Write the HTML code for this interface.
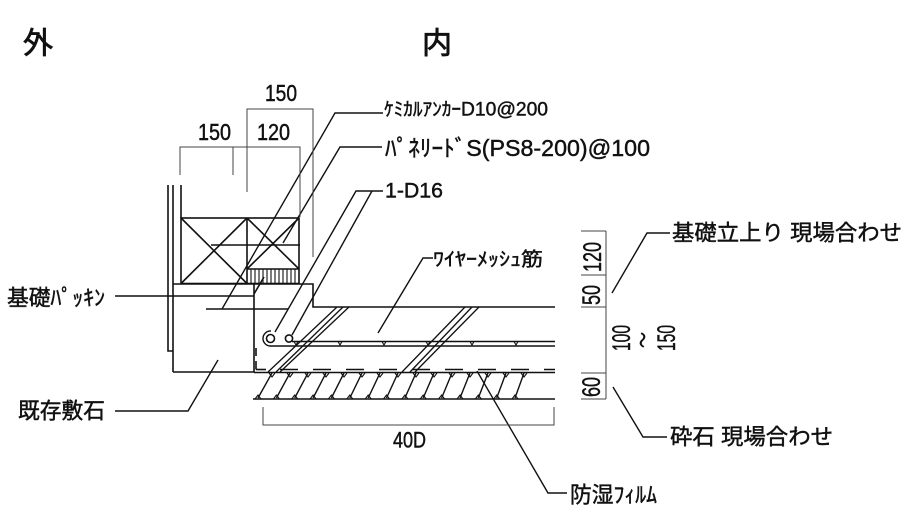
<!DOCTYPE html>
<html><head><meta charset="utf-8"><style>
html,body{margin:0;padding:0;background:#fff;}
svg{display:block;}
text{font-family:"Liberation Sans","Noto Sans CJK JP",sans-serif;fill:#111;stroke:#111;stroke-width:0.45;dominant-baseline:central;}
</style></head><body>
<svg width="917" height="518" viewBox="0 0 917 518" xmlns="http://www.w3.org/2000/svg">
<g fill="none" stroke="#111" stroke-width="1.6" stroke-linecap="butt">
<!-- wall lines -->
<polyline points="168,185 168,351 173,351"/>
<line x1="173" y1="185" x2="173" y2="372"/>
<line x1="181" y1="185" x2="181" y2="218"/>
<!-- foundation box -->
<rect x="181" y="218" width="118" height="65.5"/>
<line x1="247" y1="218" x2="247" y2="283.5"/>
<line x1="181" y1="218" x2="247" y2="283.5"/>
<line x1="247" y1="218" x2="181" y2="283.5"/>
<line x1="247" y1="218" x2="299" y2="269"/>
<line x1="299" y1="218" x2="247" y2="269"/>
<line x1="211" y1="245" x2="300" y2="245"/>
<line x1="247" y1="269" x2="299" y2="269"/>
<!-- packing hatch -->
<g stroke-width="1.1">
<line x1="251" y1="269" x2="251" y2="283"/><line x1="255" y1="269" x2="255" y2="283"/>
<line x1="259" y1="269" x2="259" y2="283"/><line x1="263" y1="269" x2="263" y2="283"/>
<line x1="267" y1="269" x2="267" y2="283"/><line x1="271" y1="269" x2="271" y2="283"/>
<line x1="275" y1="269" x2="275" y2="283"/><line x1="279" y1="269" x2="279" y2="283"/>
<line x1="283" y1="269" x2="283" y2="283"/><line x1="287" y1="269" x2="287" y2="283"/>
<line x1="291" y1="269" x2="291" y2="283"/><line x1="295" y1="269" x2="295" y2="283"/>
</g>
<!-- slab / stone outline -->
<polyline points="173,284 313,284 313,307 555,307"/>
<polyline points="173,372 254,372"/>
<line x1="254" y1="284" x2="254" y2="372"/>
<line x1="206" y1="309" x2="288" y2="309"/>
<line x1="264" y1="277" x2="254" y2="294"/>
<!-- gravel -->
<line x1="254" y1="372.5" x2="555" y2="372.5"/>
<line x1="253" y1="399" x2="555" y2="399"/>
<!-- moisture film dashed -->
<line x1="256" y1="348" x2="256" y2="356"/>
<line x1="256" y1="361" x2="256" y2="369.5"/>
<line x1="256" y1="369.5" x2="266" y2="369.5"/>
<line x1="280" y1="369.5" x2="555" y2="369.5" stroke-dasharray="18 15"/>
<!-- mesh -->
<line x1="292" y1="341.5" x2="555" y2="341.5" stroke-width="1.4"/>
<line x1="270" y1="346" x2="555" y2="346" stroke-width="1.4"/>
<path d="M270,346 A7.5,7.5 0 0 1 271,331" stroke-width="1.4"/>
<circle cx="270.5" cy="338.5" r="4"/>
<circle cx="289" cy="338.5" r="3.6"/>
<!-- bent bars -->
<g stroke-width="1.3">
<line x1="268" y1="372" x2="337" y2="307"/>
<line x1="276" y1="372" x2="343" y2="307"/>
<line x1="280" y1="372" x2="349" y2="307"/>
<line x1="402" y1="372" x2="465" y2="307"/>
<line x1="410" y1="372" x2="472" y2="307"/>
<line x1="415" y1="372" x2="479" y2="307"/>
</g>
<!-- gravel hatch -->
<g stroke-width="1.4">
<line x1="258" y1="398" x2="272" y2="373"/>
<line x1="276.4" y1="398" x2="290" y2="373"/>
<line x1="294.7" y1="398" x2="308" y2="373"/>
<line x1="313.1" y1="398" x2="326" y2="373"/>
<line x1="331.4" y1="398" x2="344" y2="373"/>
<line x1="349.8" y1="398" x2="362" y2="373"/>
<line x1="368.2" y1="398" x2="380" y2="373"/>
<line x1="386.5" y1="398" x2="398" y2="373"/>
<line x1="404.9" y1="398" x2="416" y2="373"/>
<line x1="423.2" y1="398" x2="434" y2="373"/>
<line x1="441.6" y1="398" x2="452" y2="373"/>
<line x1="460" y1="398" x2="470" y2="373"/>
<line x1="478.3" y1="398" x2="488" y2="373"/>
<line x1="496.7" y1="398" x2="506" y2="373"/>
<line x1="515" y1="398" x2="524" y2="373"/>
</g>
<g stroke-width="1.1">
<path d="M269,373 L272,377 L275,373 M287,373 L290,377 L293,373 M305,373 L308,377 L311,373 M323,373 L326,377 L329,373 M341,373 L344,377 L347,373 M359,373 L362,377 L365,373 M377,373 L380,377 L383,373 M395,373 L398,377 L401,373 M413,373 L416,377 L419,373 M431,373 L434,377 L437,373 M449,373 L452,377 L455,373 M467,373 L470,377 L473,373 M485,373 L488,377 L491,373 M503,373 L506,377 L509,373 M521,373 L524,377 L527,373"/>
<path d="M255,399 L258,395 L261,399 M273.4,399 L276.4,395 L279.4,399 M291.7,399 L294.7,395 L297.7,399 M310.1,399 L313.1,395 L316.1,399 M328.4,399 L331.4,395 L334.4,399 M346.8,399 L349.8,395 L352.8,399 M365.2,399 L368.2,395 L371.2,399 M383.5,399 L386.5,395 L389.5,399 M401.9,399 L404.9,395 L407.9,399 M420.2,399 L423.2,395 L426.2,399 M438.6,399 L441.6,395 L444.6,399 M457,399 L460,395 L463,399 M475.3,399 L478.3,395 L481.3,399 M493.7,399 L496.7,395 L499.7,399 M512,399 L515,395 L518,399"/>
<path d="M294,341.5 L296,345 L298,341.5 M338,341.5 L340,345 L342,341.5 M382,341.5 L384,345 L386,341.5 M426,341.5 L428,345 L430,341.5 M470,341.5 L472,345 L474,341.5 M514,341.5 L516,345 L518,341.5"/>
</g>
<!-- leaders -->
<g stroke-width="1.4">
<polyline points="383,113 335,113 222,309"/>
<polyline points="382,147 340,147 283,243"/>
<polyline points="383,191 356,191 275,332"/>
<line x1="372" y1="191" x2="292" y2="335"/>
<polyline points="433,258 423,258 378,333"/>
<line x1="115" y1="296" x2="254" y2="296"/>
<polyline points="115,411 188,411 218,360"/>
<polyline points="612,293 647,233 670,233"/>
<polyline points="613,387 643,437 667,437"/>
<polyline points="477,371 548,493 567,493"/>
</g>
</g>
<!-- dimension lines -->
<g fill="none" stroke="#444" stroke-width="1">
<polyline points="247,192 247,109 313,109 313,257"/>
<polyline points="180,175 180,147 300,147 300,217"/>
<line x1="233" y1="147" x2="233" y2="175"/>
<polyline points="263,407 263,425 554,425 554,407"/>
<line x1="606" y1="231" x2="606" y2="399"/>
<line x1="581" y1="231" x2="606" y2="231"/>
<line x1="581" y1="275" x2="606" y2="275"/>
<line x1="581" y1="307" x2="606" y2="307"/>
<line x1="581" y1="373" x2="606" y2="373"/>
<line x1="581" y1="399" x2="606" y2="399"/>
</g>
<!-- text -->
<text x="38" y="44" font-size="30" text-anchor="middle" style="stroke-width:0.8">外</text>
<text x="437" y="44" font-size="30" text-anchor="middle" style="stroke-width:0.8">内</text>
<text x="265" y="93" font-size="23" textLength="32" lengthAdjust="spacingAndGlyphs">150</text>
<text x="198" y="132" font-size="23" textLength="33" lengthAdjust="spacingAndGlyphs">150</text>
<text x="257" y="132" font-size="23" textLength="33" lengthAdjust="spacingAndGlyphs">120</text>
<text x="384" y="110" font-size="19" textLength="164" lengthAdjust="spacingAndGlyphs">ｹﾐｶﾙｱﾝｶｰD10@200</text>
<text x="385" y="148" font-size="23" textLength="265" lengthAdjust="spacingAndGlyphs">ﾊﾟﾈﾘｰﾄﾞS(PS8-200)@100</text>
<text x="385" y="191" font-size="21" textLength="58" lengthAdjust="spacingAndGlyphs">1-D16</text>
<text x="433" y="260" font-size="19" textLength="110" lengthAdjust="spacingAndGlyphs">ﾜｲﾔｰﾒｯｼｭ筋</text>
<text x="672" y="233" font-size="22" textLength="230" lengthAdjust="spacingAndGlyphs">基礎立上り 現場合わせ</text>
<text x="670" y="437" font-size="22" textLength="163" lengthAdjust="spacingAndGlyphs">砕石 現場合わせ</text>
<text x="18" y="411" font-size="22" textLength="87" lengthAdjust="spacingAndGlyphs">既存敷石</text>
<text x="7" y="298" font-size="22" textLength="98" lengthAdjust="spacingAndGlyphs">基礎ﾊﾟｯｷﾝ</text>
<text x="393" y="440" font-size="22" textLength="33" lengthAdjust="spacingAndGlyphs">40D</text>
<text x="570" y="495" font-size="22" textLength="87" lengthAdjust="spacingAndGlyphs">防湿ﾌｨﾙﾑ</text>
<text transform="translate(593,257) rotate(-90)" font-size="25" text-anchor="middle" textLength="30" lengthAdjust="spacingAndGlyphs">120</text>
<text transform="translate(592,295) rotate(-90)" font-size="25" text-anchor="middle" textLength="20" lengthAdjust="spacingAndGlyphs">50</text>
<text transform="translate(592,387) rotate(-90)" font-size="25" text-anchor="middle" textLength="20" lengthAdjust="spacingAndGlyphs">60</text>
<text transform="translate(622,338) rotate(-90)" font-size="25" text-anchor="middle" textLength="26" lengthAdjust="spacingAndGlyphs">100</text>
<text transform="translate(644,340) rotate(-90)" font-size="20" text-anchor="middle" textLength="16" lengthAdjust="spacingAndGlyphs">～</text>
<text transform="translate(667,338) rotate(-90)" font-size="25" text-anchor="middle" textLength="26" lengthAdjust="spacingAndGlyphs">150</text>
</svg>
</body></html>
